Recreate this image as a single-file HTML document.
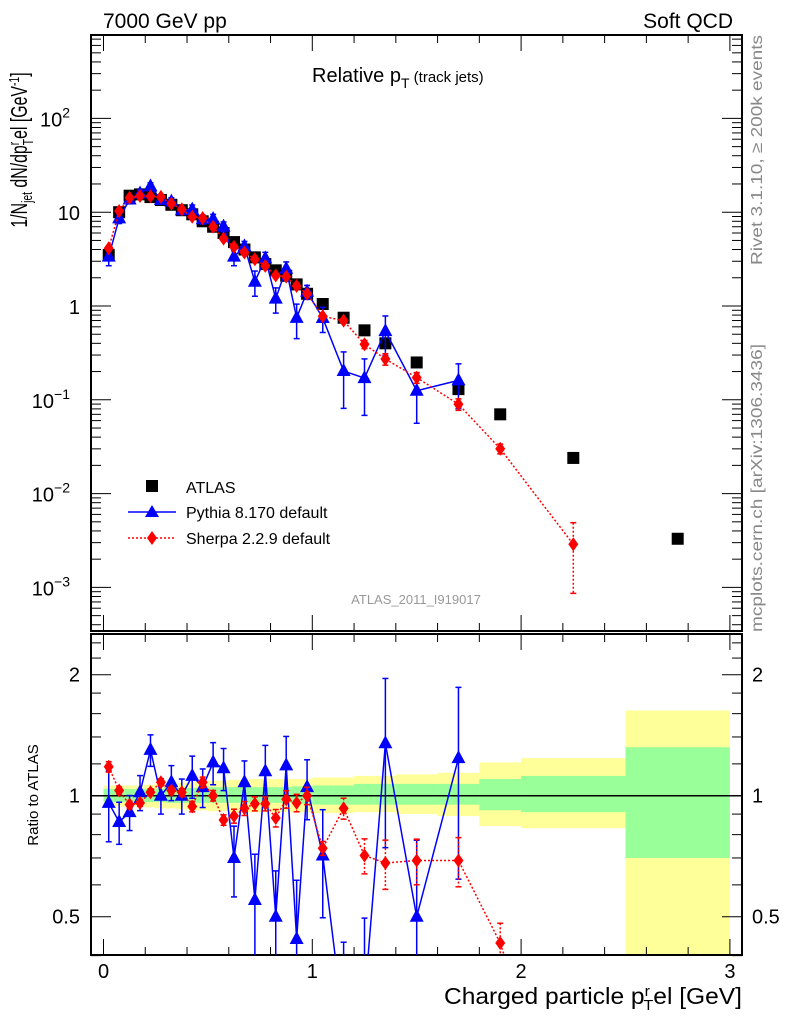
<!DOCTYPE html>
<html><head><meta charset="utf-8">
<style>
html,body{margin:0;padding:0;background:#fff;overflow:hidden;width:786px;height:1024px;}
svg{display:block;font-family:"Liberation Sans",sans-serif;}
</style></head>
<body>
<svg id="chart" width="786" height="1024" viewBox="0 0 786 1024" xmlns="http://www.w3.org/2000/svg">
<rect width="786" height="1024" fill="#fff"/>
<g id="bands"></g>
<g id="axes"></g>
<g id="series"></g>
<text x="103" y="28" font-size="21">7000 GeV pp</text>
<text x="733" y="28" font-size="21" text-anchor="end">Soft QCD</text>
<text x="312" y="82" font-size="20">Relative p<tspan font-size="14" dy="6">T</tspan><tspan font-size="15" dy="-6"> (track jets)</tspan></text>
<text transform="translate(27,150) rotate(-90) scale(0.69,1)" font-size="23" text-anchor="middle">1/N<tspan font-size="15" dy="5">jet</tspan><tspan dy="-5"> dN/dp</tspan><tspan font-size="15" dy="-8">r</tspan><tspan font-size="15" dx="-5" dy="14">T</tspan><tspan dy="-6">el [GeV</tspan><tspan font-size="15" dy="-8">-1</tspan><tspan dy="8">]</tspan></text>
<text transform="translate(38,795) rotate(-90)" font-size="15" text-anchor="middle">Ratio to ATLAS</text>
<text x="742" y="1004" font-size="23" text-anchor="end" textLength="298" lengthAdjust="spacingAndGlyphs">Charged particle p<tspan font-size="15" dy="-8">r</tspan><tspan font-size="15" dx="-6" dy="14">T</tspan><tspan dy="-6">el [GeV]</tspan></text>
<text transform="translate(762,265) rotate(-90)" font-size="16" fill="#888" textLength="230" lengthAdjust="spacingAndGlyphs">Rivet 3.1.10, ≥ 200k events</text>
<text transform="translate(762,632) rotate(-90)" font-size="16" fill="#888" textLength="288" lengthAdjust="spacingAndGlyphs">mcplots.cern.ch [arXiv:1306.3436]</text>
<text x="416" y="604" font-size="13" fill="#999" text-anchor="middle">ATLAS_2011_I919017</text>
<g>
 <rect x="146" y="480" width="12" height="12" fill="#000"/>
 <text x="186" y="493" font-size="16">ATLAS</text>
 <line x1="128" y1="512" x2="176" y2="512" stroke="#00f" stroke-width="1.5"/>
 <polygon points="152,505 159,517 145,517" fill="#00f"/>
 <text x="186" y="518" font-size="16">Pythia 8.170 default</text>
 <line x1="128" y1="538" x2="176" y2="538" stroke="#f00" stroke-width="1.5" stroke-dasharray="2,2"/>
 <polygon points="152,531 157,538 152,545 147,538" fill="#f00"/>
 <text x="186" y="544" font-size="16">Sherpa 2.2.9 default</text>
</g>
</svg>
<script>
const xCenters=[0.025,0.075,0.125,0.175,0.225,0.275,0.325,0.375,0.425,0.475,0.525,0.575,0.625,0.675,0.725,0.775,0.825,0.875,0.925,0.975,1.05,1.15,1.25,1.35,1.5,1.7,1.9,2.25,2.75];
const binEdges=[0,0.05,0.1,0.15,0.2,0.25,0.3,0.35,0.4,0.45,0.5,0.55,0.6,0.65,0.7,0.75,0.8,0.85,0.9,0.95,1.0,1.1,1.2,1.3,1.4,1.6,1.8,2.0,2.5,3.0];
const atlas=[3.5,10,15,15.5,14.5,13.5,12,10.5,9.5,8,7,6,4.8,4,3.3,2.8,2.4,2.1,1.7,1.35,1.05,0.75,0.55,0.4,0.25,0.13,0.07,0.024,0.0033];
const pythiaRatio=[0.96,0.86,0.91,1.02,1.30,1.0,1.08,1.0,1.12,1.05,1.21,1.17,0.70,1.08,0.55,1.15,0.50,1.19,0.44,1.05,0.71,0.27,0.31,1.35,0.5,1.24];
const pythiaErr=[0.2,0.12,0.1,0.1,0.09,0.1,0.1,0.1,0.12,0.11,0.12,0.12,0.2,0.13,0.3,0.16,0.3,0.18,0.4,0.17,0.3,0.6,0.6,0.45,0.55,0.5];
const sherpaRatio=[1.18,1.03,0.95,0.96,1.02,1.08,1.03,1.02,0.94,1.08,1.0,0.87,0.89,0.93,0.955,0.955,0.88,0.98,0.96,1.0,0.74,0.93,0.71,0.68,0.69,0.69,0.43,0.12];
const sherpaErr=[0.03,0.02,0.02,0.02,0.02,0.02,0.02,0.02,0.03,0.03,0.03,0.03,0.04,0.04,0.04,0.04,0.05,0.05,0.05,0.05,0.04,0.06,0.1,0.14,0.13,0.14,0.12,0.7];
const greenUp=[1.04,1.04,1.04,1.04,1.04,1.04,1.045,1.045,1.045,1.05,1.05,1.05,1.05,1.05,1.05,1.05,1.05,1.05,1.055,1.055,1.06,1.06,1.07,1.07,1.07,1.07,1.10,1.12,1.32];
const greenDn=[0.965,0.965,0.965,0.965,0.965,0.965,0.96,0.96,0.96,0.96,0.96,0.96,0.96,0.96,0.96,0.96,0.96,0.96,0.955,0.955,0.95,0.95,0.95,0.95,0.95,0.95,0.92,0.91,0.70];
const yellowUp=[1.06,1.06,1.06,1.06,1.065,1.07,1.07,1.075,1.08,1.085,1.09,1.09,1.095,1.095,1.10,1.10,1.10,1.10,1.10,1.10,1.11,1.11,1.12,1.12,1.13,1.14,1.21,1.24,1.63];
const yellowDn=[0.94,0.94,0.94,0.94,0.935,0.93,0.93,0.925,0.92,0.92,0.915,0.915,0.91,0.91,0.91,0.91,0.91,0.91,0.91,0.91,0.905,0.905,0.91,0.91,0.9,0.89,0.84,0.83,0.3];
const xTicks=[0,1,2,3];
const mainTickExp=[-3,-2,-1,0,1,2];
const mainTickLabels=["10","10","10","1","10","10"];
const mainTickSup=["−3","−2","−1","","","2"];
const ratioTicks=[0.5,1,2];
const ratioTickLabels=["0.5","1","2"];

const NS="http://www.w3.org/2000/svg";
const L=91,R=742,MT=35,MB=631,RT=634,RB=955;
const X=v=>103.5+v*208.8;
const Y=v=>306-Math.log10(v)*93.8;
const YR=v=>795.7-Math.log2(v)*121;
function mk(tag,attrs,parent){const e=document.createElementNS(NS,tag);for(const k in attrs)e.setAttribute(k,attrs[k]);parent.appendChild(e);return e;}
const axes=document.getElementById('axes'),bands=document.getElementById('bands'),series=document.getElementById('series');
for(let i=0;i<xCenters.length;i++){
  const x0=X(binEdges[i]),x1=X(binEdges[i+1]);
  const yt=Math.max(RT,YR(yellowUp[i])),yb=Math.min(RB,YR(yellowDn[i]));
  const ry=mk('rect',{x:x0,y:yt,width:x1-x0,height:yb-yt,fill:'#ffff99'},bands);
  
  
  const gt=YR(greenUp[i]),gb=YR(greenDn[i]);
  const rg=mk('rect',{x:x0,y:gt,width:x1-x0,height:gb-gt,fill:'#99ff99'},bands);
  
  
}
mk('rect',{x:L,y:MT,width:R-L,height:MB-MT,fill:'none',stroke:'#000','stroke-width':2},axes);
mk('rect',{x:L,y:RT,width:R-L,height:RB-RT,fill:'none',stroke:'#000','stroke-width':2},axes);
mk('line',{x1:L,x2:R,y1:YR(1),y2:YR(1),stroke:'#000','stroke-width':1.5},axes);
for(let v=0;v<=3.0001;v+=0.2){
  const major=Math.abs(v-Math.round(v))<1e-6,len=major?16:8,x=X(v);
  if(x<L||x>R)continue;
  mk('line',{x1:x,x2:x,y1:MB,y2:MB-len,stroke:'#000'},axes);
  mk('line',{x1:x,x2:x,y1:MT,y2:MT+len,stroke:'#000'},axes);
  mk('line',{x1:x,x2:x,y1:RB,y2:RB-len,stroke:'#000'},axes);
  mk('line',{x1:x,x2:x,y1:RT,y2:RT+len,stroke:'#000'},axes);
}
xTicks.forEach(v=>{const t=mk('text',{x:X(v),y:978,'font-size':20,'text-anchor':'middle'},axes);t.textContent=v;
  
  });
for(let e=-4;e<=2;e++){for(let m=1;m<10;m++){const v=m*Math.pow(10,e),y=Y(v);if(y<MT||y>MB)continue;
  const len=m==1?20:10;
  mk('line',{x1:L,x2:L+len,y1:y,y2:y,stroke:'#000'},axes);mk('line',{x1:R,x2:R-len,y1:y,y2:y,stroke:'#000'},axes);}}
mainTickExp.forEach((e,i)=>{const t=mk('text',{x:mainTickSup[i]?70:80,y:Y(Math.pow(10,e))+8,'font-size':20,'text-anchor':'end'},axes);
  
  
  t.textContent=mainTickLabels[i];
  if(mainTickSup[i]){const s=mk('tspan',{'font-size':14,dy:-9},t);s.textContent=mainTickSup[i];}});
[0.4,0.5,0.6,0.7,0.8,0.9,1,1.2,1.4,1.6,1.8,2,2.2,2.4].forEach(v=>{const y=YR(v);const major=(v==0.5||v==1||v==2);const len=major?20:10;
  mk('line',{x1:L,x2:L+len,y1:y,y2:y,stroke:'#000'},axes);mk('line',{x1:R,x2:R-len,y1:y,y2:y,stroke:'#000'},axes);});
ratioTicks.forEach((v,i)=>{[[80,'end'],[752,'start']].forEach(p=>{const t=mk('text',{x:p[0],y:YR(v)+7,'font-size':20,'text-anchor':p[1]},axes);t.textContent=ratioTickLabels[i];
  
  });});
const defs=mk('defs',{},series);
const c1=mk('clipPath',{id:'cm'},defs);mk('rect',{x:L,y:MT,width:R-L,height:MB-MT},c1);
const c2=mk('clipPath',{id:'cr'},defs);mk('rect',{x:L,y:RT,width:R-L,height:RB-RT},c2);
const gm=mk('g',{'clip-path':'url(#cm)'},series),gr=mk('g',{'clip-path':'url(#cr)'},series);
function tri(g,x,y,c){return mk('polygon',{points:`${x},${y-8} ${x+7},${y+5} ${x-7},${y+5}`,fill:c},g);}
function dia(g,x,y,c){return mk('polygon',{points:`${x},${y-7} ${x+5},${y} ${x},${y+7} ${x-5},${y}`,fill:c},g);}
function drawMC(ratio,err,col,dash,shape,name){
  const pm=[],pr=[];
  ratio.forEach((r,i)=>{const v=r*atlas[i],x=X(xCenters[i]);pm.push([x,Y(v)]);pr.push([x,YR(r)]);});
  const lm=mk('polyline',{points:pm.map(p=>p.join(',')).join(' '),fill:'none',stroke:col,'stroke-width':1.5},gm);
  if(dash)lm.setAttribute('stroke-dasharray',dash);
  
  
  const lr=mk('polyline',{points:pr.map(p=>p.join(',')).join(' '),fill:'none',stroke:col,'stroke-width':1.5},gr);
  if(dash)lr.setAttribute('stroke-dasharray',dash);
  
  
  ratio.forEach((r,i)=>{const v=r*atlas[i],x=X(xCenters[i]),e=err[i];
    [[gm,Y,v],[gr,YR,r]].forEach(([g,f,val])=>{
      const y1=f(val*(1+e)),y2=f(Math.max(val*(1-e),1e-6));
      const el=mk('line',{x1:x,x2:x,y1:y1,y2:y2,stroke:col,'stroke-width':1.5},g);if(dash)el.setAttribute('stroke-dasharray',dash);
      mk('line',{x1:x-3,x2:x+3,y1:y1,y2:y1,stroke:col,'stroke-width':1.5},g);mk('line',{x1:x-3,x2:x+3,y1:y2,y2:y2,stroke:col,'stroke-width':1.5},g);
      const m=shape(g,x,f(val),col);
      
      
    });});
}
atlas.forEach((v,i)=>{const r=mk('rect',{x:X(xCenters[i])-6,y:Y(v)-6,width:12,height:12,fill:'#000'},gm);
  
  });
drawMC(pythiaRatio,pythiaErr,'#0000ff',null,tri,'pythia');
drawMC(sherpaRatio,sherpaErr,'#ff0000','2,2',dia,'sherpa');
</script>
</body></html>
